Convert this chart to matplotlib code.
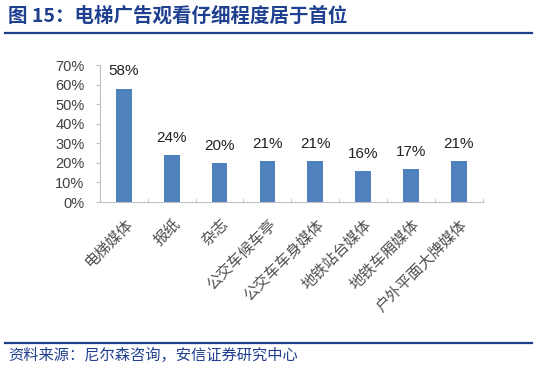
import matplotlib.pyplot as plt
import numpy as np

plt.rcParams["font.family"] = ["Noto Sans CJK SC", "DejaVu Sans"]

categories = ["电梯媒体", "报纸", "杂志", "公交车候车亭", "公交车车身媒体",
              "地铁站台媒体", "地铁车厢媒体", "户外平面大牌媒体"]
values = [58, 24, 20, 21, 21, 16, 17, 21]
yticks = [0, 10, 20, 30, 40, 50, 60, 70]

title = "图 15：电梯广告观看仔细程度居于首位"
source = "资料来源：尼尔森咨询，安信证券研究中心"
navy = "#1F3F8F"
latin = ["Liberation Sans", "DejaVu Sans"]

fig = plt.figure(figsize=(5.4, 3.7), dpi=100)
fig.text(0.015, 0.958, title, fontsize=14, fontweight="bold", color=navy,
         va="center", ha="left")
fig.add_artist(plt.Line2D([0.01, 0.985], [0.911, 0.911], color=navy, lw=1.6))
fig.add_artist(plt.Line2D([0.01, 0.985], [0.073, 0.073], color=navy, lw=1.6))
fig.text(0.015, 0.04, source, fontsize=11, color=navy, style="italic",
         va="center", ha="left")

ax = fig.add_axes([0.185, 0.454, 0.709, 0.37])
x = np.arange(len(categories))
ax.bar(x, values, width=0.33, color="#4F81BD")
for xi, v in zip(x, values):
    ax.text(xi, v + 6.7, f"{v}%", ha="center", va="baseline", fontsize=11,
            family=latin, color="#222222")

ax.set_xlim(-0.5, len(categories) - 0.5)
ax.set_ylim(0, 70)
ax.set_yticks(yticks)
ax.set_yticklabels([f"{t}%" for t in yticks], fontsize=10.5,
                   family=latin, color="#404040")
ax.set_xticks(x)
ax.set_xticklabels(categories, rotation=45, ha="right", rotation_mode="anchor",
                   fontsize=11, color="#505050")
ax.set_xticks(np.arange(-0.5, len(categories), 1), minor=True)
ax.tick_params(axis="x", which="major", length=0, pad=10)
ax.tick_params(axis="x", which="minor", length=3, color="#BFBFBF", direction="in")
ax.tick_params(axis="y", length=3, color="#BFBFBF", direction="out", pad=8)
for s in ["top", "right"]:
    ax.spines[s].set_visible(False)
for s in ["left", "bottom"]:
    ax.spines[s].set_color("#BFBFBF")

fig.savefig("out.png", dpi=100)
